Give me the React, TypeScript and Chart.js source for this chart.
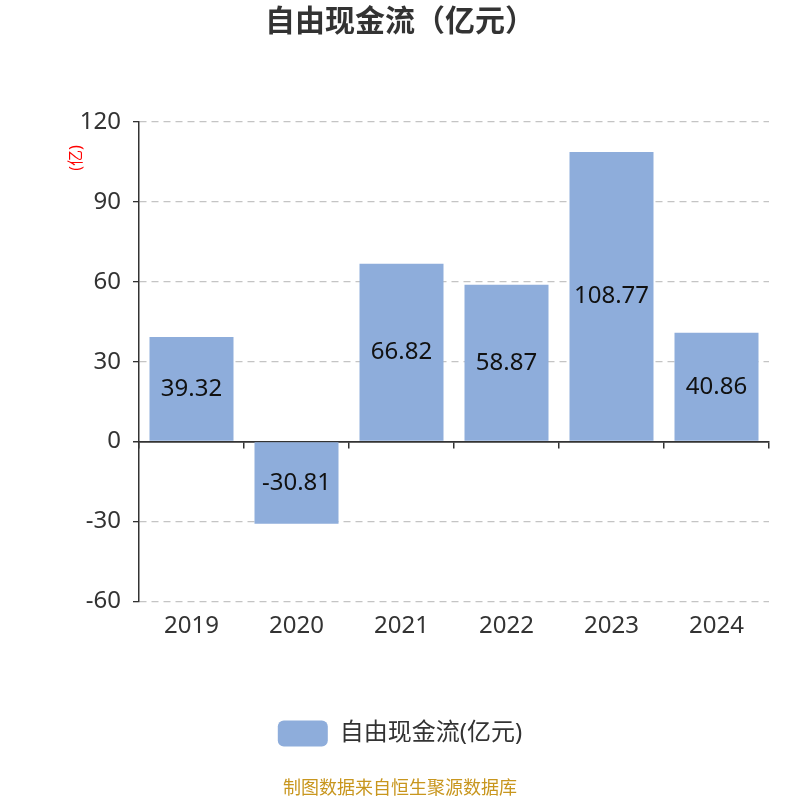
import React, { useEffect, useRef } from 'react';
import { Chart, registerables } from 'chart.js';

Chart.register(...registerables);

// 数据
const years: string[] = ['2019', '2020', '2021', '2022', '2023', '2024'];
const freeCashFlow: number[] = [39.32, -30.81, 66.82, 58.87, 108.77, 40.86];
const seriesName = '自由现金流(亿元)';
const chartTitle = '自由现金流（亿元）';
const unitLabel = '(亿)';
const sourceNote = '制图数据来自恒生聚源数据库';

const FONT = '"Noto Sans", "Noto Sans CJK SC", sans-serif';
const BAR_COLOR = '#8eaddb';

// 柱内数值
const barValuePlugin = {
  id: 'barValues',
  afterDatasetsDraw(chart: any) {
    const { ctx } = chart;
    const meta = chart.getDatasetMeta(0);
    ctx.save();
    ctx.font = `24px ${FONT}`;
    ctx.fillStyle = '#111';
    ctx.textAlign = 'center';
    ctx.textBaseline = 'middle';
    meta.data.forEach((bar: any, i: number) => {
      const c = bar.getCenterPoint();
      ctx.fillText(freeCashFlow[i].toFixed(2), c.x, c.y);
    });
    ctx.restore();
  },
};

// 单位 (亿)
const unitPlugin = {
  id: 'unitLabel',
  afterDraw(chart: any) {
    const { ctx, chartArea } = chart;
    ctx.save();
    ctx.translate(chartArea.left - 63, chartArea.top + 36);
    ctx.rotate(-Math.PI / 2);
    ctx.font = `16px ${FONT}`;
    ctx.fillStyle = '#ff0000';
    ctx.textAlign = 'center';
    ctx.textBaseline = 'middle';
    ctx.fillText(unitLabel, 0, 0);
    ctx.restore();
  },
};

const App: React.FC = () => {
  const canvasRef = useRef<HTMLCanvasElement>(null);

  useEffect(() => {
    if (!canvasRef.current) return;
    const chart = new Chart(canvasRef.current, {
      type: 'bar',
      data: {
        labels: years,
        datasets: [
          {
            label: seriesName,
            data: freeCashFlow,
            backgroundColor: BAR_COLOR,
            barPercentage: 0.8,
            categoryPercentage: 1,
          },
        ],
      },
      options: {
        responsive: true,
        maintainAspectRatio: false,
        animation: false,
        layout: { padding: { left: 31, right: 31, top: 0, bottom: 0 } },
        plugins: {
          title: {
            display: true,
            text: chartTitle,
            color: '#333',
            font: { family: FONT, size: 30, weight: 'bold' },
            padding: { top: 4, bottom: 82 },
          },
          subtitle: {
            display: true,
            position: 'bottom',
            text: sourceNote,
            color: '#c8961e',
            font: { family: FONT, size: 18 },
            padding: { top: 22, bottom: 0 },
          },
          legend: {
            position: 'bottom',
            labels: {
              boxWidth: 50,
              boxHeight: 26,
              useBorderRadius: true,
              borderRadius: 6,
              color: '#333',
              font: { family: FONT, size: 24 },
              padding: 10,
            },
          },
          tooltip: { enabled: false },
        },
        scales: {
          x: {
            type: 'category',
            position: 'bottom',
            offset: true,
            grid: { display: false, drawTicks: false },
            border: { display: false },
            ticks: {
              color: '#333',
              font: { family: FONT, size: 24 },
              padding: 10,
            },
            afterFit: (scale: any) => {
              scale.height = 109;
            },
          },
          x0: {
            type: 'category',
            position: { y: 0 },
            offset: true,
            grid: {
              offset: true,
              drawOnChartArea: false,
              drawTicks: true,
              tickLength: 6,
              color: '#333',
              lineWidth: 1.5,
            },
            border: { display: true, color: '#333', width: 1.5 },
            ticks: { display: false },
          },
          y: {
            min: -60,
            max: 120,
            position: 'left',
            ticks: {
              stepSize: 30,
              color: '#333',
              font: { family: FONT, size: 24 },
              padding: 12,
            },
            grid: {
              color: (c: any) => (c.tick && c.tick.value === 0 ? '#333' : '#c4c4c4'),
              lineWidth: (c: any) => (c.tick && c.tick.value === 0 ? 1.5 : 1.3),
              tickColor: '#333',
              tickLength: 6,
              tickBorderDash: [],
            },
            border: {
              display: true,
              color: '#333',
              width: 1.5,
              dash: (c: any) => (c.tick && c.tick.value !== 0 ? [7, 5] : []),
            },
            afterFit: (scale: any) => {
              scale.width = 108;
            },
          },
        },
      } as any,
      plugins: [barValuePlugin, unitPlugin],
    });
    return () => chart.destroy();
  }, []);

  return (
    <div style={{ position: 'fixed', left: 0, top: 0, width: 800, height: 800, background: '#fff' }}>
      <canvas ref={canvasRef} />
    </div>
  );
};

export default App;
